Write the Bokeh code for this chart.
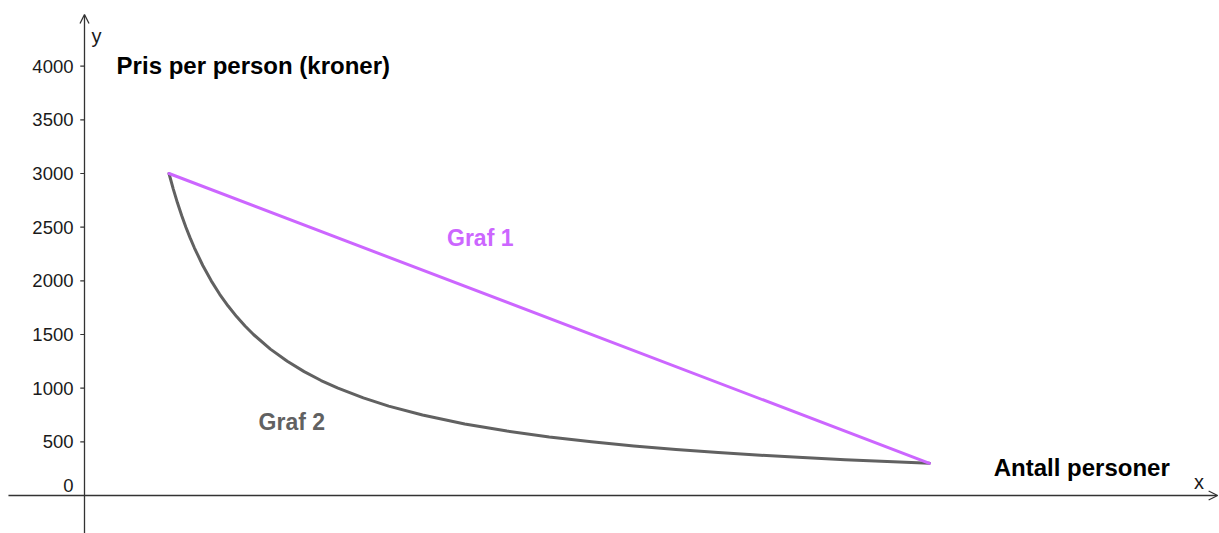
from bokeh.plotting import figure
from bokeh.models import Range1d, Arrow, OpenHead, ColumnDataSource
from bokeh.core.properties import value
from bokeh.embed import file_html
from bokeh.resources import INLINE

# Data
tick_values = [0, 500, 1000, 1500, 2000, 2500, 3000, 3500, 4000]
tick_labels = ["0", "500", "1000", "1500", "2000", "2500", "3000", "3500", "4000"]

graf1_x = [10, 100]
graf1_y = [3000, 300]

graf2_x = [10, 10.5, 11, 11.5, 12, 12.5, 13, 14, 15, 16, 17, 18, 19, 20, 22, 24, 26, 28, 30,
           33, 36, 40, 45, 50, 55, 60, 65, 70, 75, 80, 85, 90, 95, 100]
graf2_y = [3000, 2857, 2727, 2609, 2500, 2400, 2308, 2143, 2000, 1875, 1765, 1667, 1579, 1500,
           1364, 1250, 1154, 1071, 1000, 909, 833, 750, 667, 600, 545, 500, 462, 429, 400, 375,
           353, 333, 316, 300]

PURPLE = "#cc66ff"
GRAY = "#616161"
AXIS = "#333333"
FONT = "Liberation Sans"

W, H = 1219, 533
p = figure(width=W, height=H, output_backend="svg", toolbar_location=None,
           x_range=Range1d(-9.941, 134.32), y_range=Range1d(-354.1, 4612.0),
           min_border=0, outline_line_color=None)
p.axis.visible = False
p.grid.visible = False
p.background_fill_color = "white"
p.border_fill_color = "white"

# axes with arrows
p.add_layout(Arrow(end=OpenHead(size=9, line_color=AXIS, line_width=1.3),
                   x_start=-9.0, y_start=0, x_end=134.1, y_end=0,
                   line_color=AXIS, line_width=1.3))
p.add_layout(Arrow(end=OpenHead(size=9, line_color=AXIS, line_width=1.3),
                   x_start=0, y_start=-400, x_end=0, y_end=4481,
                   line_color=AXIS, line_width=1.3))

# ticks on y axis
p.segment(x0=[-0.5] * len(tick_values), y0=tick_values,
          x1=[0] * len(tick_values), y1=tick_values,
          line_color=AXIS, line_width=1.2)
src = ColumnDataSource(dict(x=[0] * len(tick_values), y=tick_values, t=tick_labels,
                            yo=[0 if v else -10 for v in tick_values]))
p.text(x="x", y="y", text="t", source=src, x_offset=-11, y_offset="yo",
       text_align="right", text_baseline="alphabetic",
       text_font=value(FONT), text_font_size="18.5px", text_color="#1a1a1a")

# curves
p.line(graf2_x, graf2_y, line_color=GRAY, line_width=3, line_cap="round", line_join="round")
p.line(graf1_x, graf1_y, line_color=PURPLE, line_width=3, line_cap="round")

def label(x, y, t, size, color, bold=True, dy=-8):
    p.text(x=[x], y=[y], text=[t], text_align="left", text_baseline="alphabetic",
           y_offset=dy,
           text_font=value(FONT), text_font_size=size, text_color=color,
           text_font_style="bold" if bold else "normal")

label(3.8, 3941, "Pris per person (kroner)", "24px", "#000000", dy=-7)
label(107.6, 167.7, "Antall personer", "24px", "#000000", dy=-10)
label(42.9, 2320, "Graf 1", "23px", PURPLE, dy=-8)
label(20.6, 596, "Graf 2", "23px", GRAY, dy=-10)
label(0.83, 4239, "y", "20px", "#1a1a1a", bold=False, dy=-5)
label(131.3, 65, "x", "20px", "#1a1a1a", bold=False, dy=-7)

open("out.html", "w").write(file_html(p, INLINE))
